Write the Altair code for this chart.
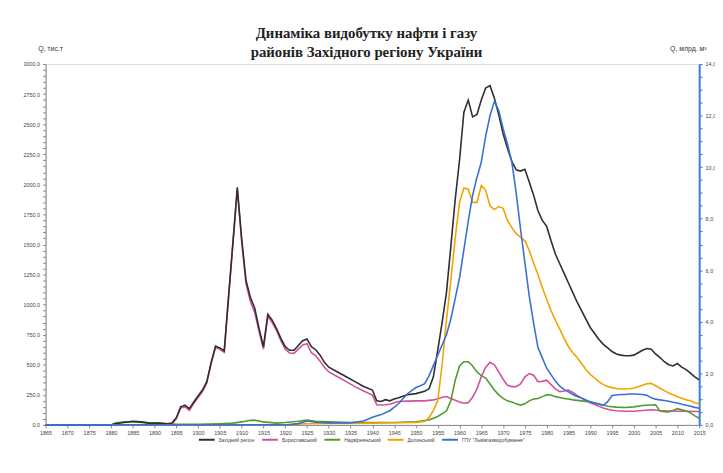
import altair as alt
import pandas as pd

# ---- data ----
series_names = ["Західний регіон", "Бориславський", "Надвірнянський", "Долинський",
                "ГПУ \"Львівгазвидобування\""]
series_colors = ["#2e2e2e", "#d4509c", "#4f9c2c", "#f3a200", "#3a6fd6"]

# oil, thousand tonnes
zakhidnyi = {1865: 0, 1880: 0, 1881: 10, 1883: 20, 1885: 30, 1887: 25, 1889: 15, 1891: 15,
             1893: 10, 1894: 15, 1895: 60, 1896: 150, 1897: 165, 1898: 135, 1899: 190,
             1900: 240, 1901: 290, 1902: 360, 1903: 520, 1904: 655, 1905: 640, 1906: 615,
             1907: 1070, 1908: 1520, 1909: 1975, 1910: 1550, 1911: 1200, 1912: 1060,
             1913: 970, 1914: 800, 1915: 650, 1916: 920, 1917: 870, 1918: 800, 1919: 720,
             1920: 650, 1921: 620, 1922: 620, 1923: 660, 1924: 700, 1925: 715, 1926: 650,
             1927: 625, 1928: 580, 1929: 520, 1930: 480, 1932: 440, 1934: 400, 1936: 360,
             1938: 320, 1940: 290, 1941: 200, 1942: 195, 1943: 210, 1944: 200, 1945: 215,
             1946: 225, 1948: 250, 1950: 260, 1952: 280, 1953: 300, 1954: 400, 1955: 620,
             1956: 850, 1957: 1100, 1958: 1480, 1959: 1870, 1960: 2200, 1961: 2600,
             1962: 2700, 1963: 2560, 1964: 2580, 1965: 2700, 1966: 2800, 1967: 2820,
             1968: 2715, 1969: 2580, 1970: 2420, 1971: 2300, 1972: 2190, 1973: 2120,
             1974: 2110, 1975: 2125, 1976: 2020, 1977: 1910, 1978: 1780, 1979: 1700,
             1980: 1650, 1981: 1530, 1982: 1420, 1983: 1340, 1984: 1260, 1985: 1180,
             1986: 1100, 1987: 1020, 1988: 950, 1989: 880, 1990: 810, 1991: 760, 1992: 710,
             1993: 670, 1994: 640, 1995: 610, 1996: 590, 1997: 580, 1998: 575, 1999: 575,
             2000: 580, 2001: 600, 2002: 620, 2003: 635, 2004: 630, 2005: 590, 2006: 560,
             2007: 525, 2008: 500, 2009: 490, 2010: 510, 2011: 480, 2012: 460, 2013: 430,
             2014: 400, 2015: 375}

boryslav = {1865: 0, 1893: 0, 1894: 5, 1895: 50, 1896: 140, 1897: 150, 1898: 122, 1899: 178,
            1900: 228, 1901: 278, 1902: 348, 1903: 508, 1904: 643, 1905: 628, 1906: 603,
            1907: 1058, 1908: 1505, 1909: 1955, 1910: 1525, 1911: 1175, 1912: 1025,
            1913: 935, 1914: 775, 1915: 630, 1916: 900, 1917: 850, 1918: 785, 1919: 700,
            1920: 628, 1921: 598, 1922: 595, 1923: 630, 1924: 665, 1925: 675, 1926: 600,
            1927: 575, 1928: 530, 1929: 480, 1930: 440, 1932: 400, 1934: 360, 1936: 318,
            1938: 282, 1940: 248, 1941: 167, 1942: 165, 1943: 167, 1944: 172, 1945: 185,
            1946: 195, 1948: 198, 1950: 200, 1952: 200, 1954: 208, 1955: 215, 1956: 230,
            1957: 236, 1958: 220, 1959: 205, 1960: 190, 1961: 180, 1962: 185, 1963: 230,
            1964: 300, 1965: 400, 1966: 480, 1967: 520, 1968: 500, 1969: 441, 1970: 380,
            1971: 330, 1972: 318, 1973: 318, 1974: 340, 1975: 400, 1976: 427, 1977: 413,
            1978: 359, 1979: 362, 1980: 372, 1981: 335, 1982: 300, 1983: 277, 1984: 282,
            1985: 290, 1986: 270, 1987: 245, 1988: 222, 1989: 200, 1990: 185, 1991: 170,
            1992: 154, 1993: 140, 1994: 130, 1995: 122, 1996: 118, 1998: 114, 2000: 113,
            2002: 120, 2004: 126, 2006: 120, 2008: 116, 2010: 113, 2012: 113, 2015: 112}

nadvirna = {1865: 0, 1880: 0, 1881: 15, 1883: 25, 1885: 25, 1887: 20, 1889: 12, 1891: 15,
            1893: 10, 1895: 5, 1900: 5, 1905: 10, 1908: 15, 1910: 25, 1912: 38, 1913: 40,
            1915: 25, 1918: 15, 1920: 20, 1923: 30, 1925: 40, 1927: 30, 1930: 25, 1935: 20,
            1940: 20, 1945: 20, 1950: 25, 1953: 40, 1955: 70, 1957: 115, 1958: 200,
            1959: 370, 1960: 490, 1961: 525, 1962: 525, 1963: 490, 1964: 440, 1965: 410,
            1966: 390, 1967: 340, 1968: 290, 1969: 250, 1970: 220, 1971: 200, 1972: 190,
            1973: 175, 1974: 165, 1975: 175, 1976: 200, 1977: 215, 1978: 220, 1979: 235,
            1980: 250, 1981: 248, 1982: 235, 1983: 228, 1984: 220, 1985: 215, 1986: 208,
            1988: 200, 1990: 190, 1992: 175, 1994: 155, 1996: 148, 1998: 145, 2000: 150,
            2002: 162, 2004: 165, 2005: 167, 2006: 115, 2007: 110, 2008: 107, 2009: 120,
            2010: 135, 2011: 125, 2012: 115, 2013: 100, 2014: 75, 2015: 55}

dolyna = {1865: 0, 1920: 0, 1925: 10, 1930: 12, 1940: 15, 1945: 18, 1950: 20, 1951: 25,
          1952: 30, 1953: 60, 1954: 120, 1955: 200, 1956: 500, 1957: 870, 1958: 1200,
          1959: 1550, 1960: 1850, 1961: 1970, 1962: 1960, 1963: 1850, 1964: 1850,
          1965: 1990, 1966: 1950, 1967: 1820, 1968: 1790, 1969: 1815, 1970: 1800,
          1971: 1700, 1972: 1640, 1973: 1590, 1974: 1560, 1975: 1530, 1976: 1450,
          1977: 1345, 1978: 1250, 1979: 1140, 1980: 1044, 1981: 950, 1982: 870, 1983: 797,
          1984: 720, 1985: 650, 1986: 600, 1987: 560, 1988: 510, 1989: 460, 1990: 420,
          1991: 390, 1992: 360, 1993: 335, 1994: 320, 1995: 310, 1996: 302, 1997: 298,
          1998: 298, 1999: 300, 2000: 305, 2001: 318, 2002: 330, 2003: 342, 2004: 345,
          2005: 325, 2006: 305, 2007: 285, 2008: 265, 2009: 250, 2010: 235, 2011: 222,
          2012: 210, 2013: 200, 2014: 185, 2015: 175}

# gas, billion m3
lvivgaz = {1865: 0, 1920: 0, 1923: 0.05, 1925: 0.15, 1927: 0.1, 1930: 0.08, 1935: 0.08,
           1938: 0.15, 1940: 0.3, 1942: 0.4, 1944: 0.55, 1946: 0.82, 1948: 1.2, 1949: 1.33,
           1950: 1.45, 1951: 1.52, 1952: 1.6, 1953: 1.9, 1954: 2.3, 1955: 2.7, 1956: 3.1,
           1957: 3.5, 1958: 4.1, 1959: 4.9, 1960: 5.7, 1961: 6.8, 1962: 7.9, 1963: 8.9,
           1964: 9.6, 1965: 10.2, 1966: 11.2, 1967: 12.0, 1968: 12.55, 1969: 12.2,
           1970: 11.5, 1971: 10.9, 1972: 10.2, 1973: 9.0, 1974: 7.6, 1975: 6.3, 1976: 5.0,
           1977: 3.95, 1978: 3.0, 1979: 2.6, 1980: 2.2, 1981: 1.95, 1982: 1.7, 1983: 1.5,
           1984: 1.38, 1985: 1.28, 1986: 1.18, 1987: 1.1, 1988: 1.04, 1989: 0.97,
           1990: 0.9, 1991: 0.85, 1992: 0.8, 1993: 0.76, 1994: 0.9, 1995: 1.14, 1996: 1.16,
           1997: 1.18, 1998: 1.18, 1999: 1.2, 2000: 1.2, 2001: 1.19, 2002: 1.18,
           2003: 1.15, 2004: 1.05, 2005: 1.0, 2006: 0.97, 2007: 0.95, 2008: 0.92,
           2009: 0.88, 2010: 0.85, 2011: 0.8, 2012: 0.76, 2013: 0.72, 2014: 0.68,
           2015: 0.65}

oil_ticks = list(range(0, 3001, 50))
gas_ticks = [i * 0.5 for i in range(0, 29)]
year_ticks = list(range(1865, 2016, 5))


def frame(d, name):
    return pd.DataFrame({"year": list(d.keys()), "value": list(d.values()), "series": name})


color = alt.Color("series:N",
                  scale=alt.Scale(domain=series_names, range=series_colors),
                  legend=alt.Legend(title=None, orient="none", legendX=154, legendY=371,
                                    direction="horizontal", symbolType="stroke",
                                    symbolSize=256, symbolStrokeWidth=2,
                                    labelFontSize=5, labelColor="#444",
                                    labelFont="Liberation Sans", columnPadding=3,
                                    labelOffset=3, labelLimit=200))

x_enc = alt.X("year:Q", scale=alt.Scale(domain=[1865, 2015], nice=False, zero=False),
              axis=alt.Axis(values=year_ticks, format="d", title=None, labelFontSize=5.5,
                            labelColor="#444", labelFont="Liberation Sans",
                            tickSize=3, tickColor="#888", domainColor="#888",
                            labelPadding=3, grid=False, labelFlush=False))

oil_axis = alt.Axis(values=oil_ticks,
                    labelExpr="datum.value % 250 == 0 ? replace(format(datum.value, '.1f'), '.', ',') : ''",
                    title="Q, тис.т", titleAngle=0, titleX=-8, titleY=-13, titleAlign="left",
                    titleBaseline="bottom", titleFontSize=7, titleFontWeight="normal",
                    titleFont="Liberation Sans", titleColor="#333",
                    labelFontSize=5.5, labelColor="#444", labelFont="Liberation Sans",
                    tickSize=3, tickColor="#888", domainColor="#888", labelPadding=3,
                    grid=False)

gas_axis = alt.Axis(values=gas_ticks, orient="right",
                    labelExpr="datum.value % 2 == 0 ? replace(format(datum.value, '.1f'), '.', ',') : ''",
                    title="Q, млрд. м³", titleAngle=0, titleX=-30, titleY=-13,
                    titleAlign="left", titleBaseline="bottom", titleFontSize=7,
                    titleFontWeight="normal", titleFont="Liberation Sans", titleColor="#333",
                    labelFontSize=5.5, labelColor="#444", labelFont="Liberation Sans",
                    tickSize=3, tickColor="#3a7bd5", domainColor="#3a7bd5", domainWidth=2,
                    labelPadding=3, grid=False)

oil_scale = alt.Scale(domain=[0, 3000], nice=False)
gas_scale = alt.Scale(domain=[0, 14], nice=False)


def oil_line(d, name):
    return alt.Chart(frame(d, name)).mark_line(strokeWidth=1.6).encode(
        x=x_enc,
        y=alt.Y("value:Q", scale=oil_scale, axis=oil_axis),
        color=color,
    )


oil = alt.layer(
    oil_line(boryslav, series_names[1]),
    oil_line(nadvirna, series_names[2]),
    oil_line(dolyna, series_names[3]),
    oil_line(zakhidnyi, series_names[0]),
)

gas = alt.Chart(frame(lvivgaz, series_names[4])).mark_line(strokeWidth=1.6).encode(
    x=x_enc,
    y=alt.Y("value:Q", scale=gas_scale, axis=gas_axis),
    color=color,
)

chart = alt.layer(oil, gas).resolve_scale(y="independent").properties(
    width=661, height=365,
    autosize=alt.AutoSizeParams(type="none"),
    padding={"left": 38, "top": 54, "right": 16, "bottom": 46},
    title=alt.TitleParams(["Динаміка видобутку нафти і газу",
                           "районів Західного регіону України"],
                          font="Liberation Serif", fontSize=15, fontWeight="bold",
                          color="#222", anchor="middle", offset=-16, dx=-6, lineHeight=19),
).configure_view(stroke=None).configure(background="white")

chart.save("out.html", embed_options={"renderer": "svg", "actions": False})
